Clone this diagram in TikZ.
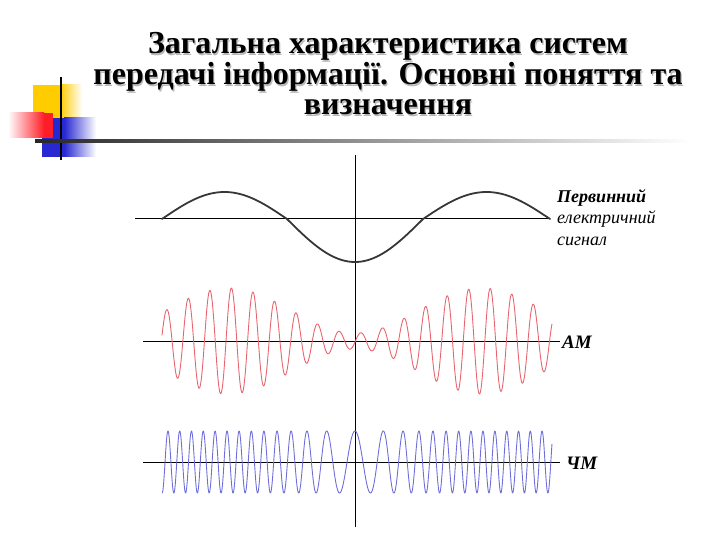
\documentclass[tikz,border=0pt]{standalone}
\usepackage{fontspec}
\setmainfont{Liberation Serif}[BoldFont={Liberation Serif Bold}, ItalicFont={Liberation Serif Italic}, BoldItalicFont={Liberation Serif Bold Italic}]
\begin{document}
\begin{tikzpicture}[x=1pt,y=-1pt,
  titletext/.style={anchor=base, font=\fontsize{32}{33}\selectfont\bfseries, inner sep=0pt, text height=22pt, text depth=6pt},
  shadowtext/.style={titletext, text=black!28},
  axisline/.style={black, line width=1pt},
  sigtext/.style={font=\fontsize{19}{20}\selectfont\bfseries\itshape, anchor=west, inner sep=0pt}]
\definecolor{decoyellow}{RGB}{255,204,0}
\definecolor{decored}{RGB}{255,30,40}
\definecolor{decoblue}{RGB}{40,40,210}
\definecolor{amcol}{RGB}{232,100,110}
\definecolor{fmcol}{RGB}{110,110,220}
\definecolor{sigcol}{RGB}{55,55,55}
\useasboundingbox (0,0) rectangle (720,540);
% decoration
\fill[decoyellow] (33,85) rectangle (60,118);
\shade[left color=decoyellow, right color=white] (60,85) rectangle (82,118);
\fill[decoblue] (42,118) rectangle (64,157);
\shade[left color=decoblue, right color=white] (64,118) rectangle (96,157);
\fill[decored] (44,113) rectangle (53,138);
\shade[left color=white, right color=decored] (8,113) rectangle (44,138);
\draw[black, line width=2pt] (61,77) -- (61,160);
\shade[left color=black!85, right color=white] (35,139.5) rectangle (690,142.5);
% title
\node[shadowtext] (t1s) at (389.2,55.2) {Загальна характеристика систем};
\node[shadowtext] (t2s) at (389.2,86.2) {передачі інформації. Основні поняття та};
\node[shadowtext] (t3s) at (389.2,116.2) {визначення};
\node[titletext] (t1) at (388,54) {Загальна характеристика систем};
\node[titletext] (t2) at (388,85) {передачі інформації. Основні поняття та};
\node[titletext] (t3) at (388,115) {визначення};
% axes
\coordinate (vtop) at (355,155);
\coordinate (vbot) at (355,527);
\draw[axisline] (vtop) -- (vbot);
\coordinate (a1l) at (135,219); \coordinate (a1r) at (550,219);
\coordinate (a2l) at (143,341); \coordinate (a2r) at (560,341);
\coordinate (a3l) at (143,462); \coordinate (a3r) at (560,462);
\draw[axisline] (a1l) -- (a1r);
\draw[axisline] (a2l) -- (a2r);
\draw[axisline] (a3l) -- (a3r);
% primary signal
\draw[sigcol, line width=1.8pt, line cap=round, line join=round]
  plot[domain=162:287, samples=60] (\x, {219-27*sin((\x-162)/125*180)})
  -- plot[domain=287:423, samples=60] (\x, {219+43*sin((\x-287)/136*180)})
  -- plot[domain=423:550, samples=60] (\x, {219-27*sin((\x-423)/127*180)});
% AM signal
\draw[amcol, line width=0.9pt, line join=round]
  plot[domain=162:552, samples=900] (\x, {341-(30.5-22.5*cos((\x-355)/253*360))*cos((\x-166.7)*16.69)});
% FM signal
\draw[fmcol, line width=0.9pt, line join=round]
  plot[domain=162:552, samples=1100] (\x, {462-31*cos(30.78*(\x-355)-1079.1*tanh((\x-355)/55))});
% labels
\node[anchor=north west, align=left, inner sep=0pt, font=\fontsize{18}{21.5}\selectfont\itshape] (lab1) at (557,189) {\textbf{Первинний}\\електричний\\сигнал};
\node[sigtext] (lab2) at (562,342) {АМ};
\node[sigtext] (lab3) at (566,463) {ЧМ};
\end{tikzpicture}
\end{document}
